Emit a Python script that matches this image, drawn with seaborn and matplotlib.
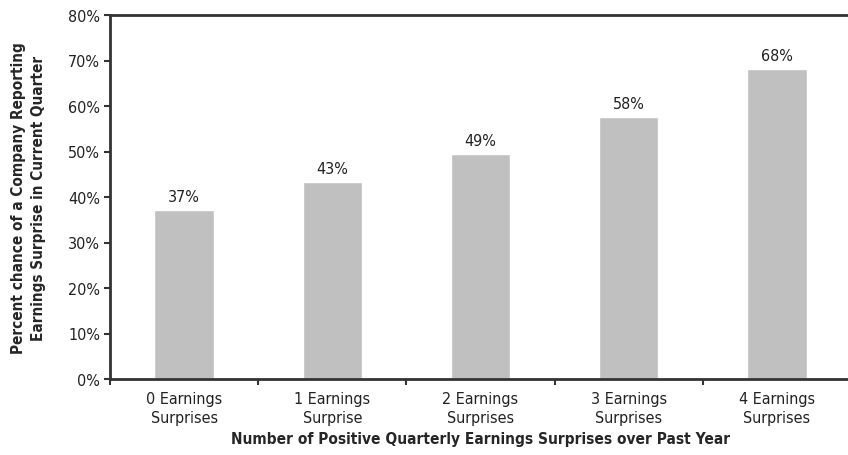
import numpy as np
import pandas as pd
import matplotlib
matplotlib.use("Agg")
import matplotlib.pyplot as plt
import seaborn as sns
from matplotlib.ticker import FuncFormatter

categories = ["0 Earnings\nSurprises", "1 Earnings\nSurprise", "2 Earnings\nSurprises",
              "3 Earnings\nSurprises", "4 Earnings\nSurprises"]
values = [37.2, 43.4, 49.5, 57.5, 68.1]
bar_labels = ["37%", "43%", "49%", "58%", "68%"]

sns.set_style("white")
# condensed sans face, close to the narrow Helvetica of the original
plt.rcParams["font.family"] = ["DejaVu Sans"]
plt.rcParams["font.stretch"] = "condensed"

df = pd.DataFrame({"group": categories, "pct": values})

fig = plt.figure(figsize=(8.48, 4.56), dpi=100)
ax = fig.add_axes([110 / 848, 76 / 456, 741 / 848, 364 / 456])

sns.barplot(data=df, x="group", y="pct", order=categories, color="#c0c0c0",
            saturation=1, width=0.4, ax=ax)

for i, (v, lab) in enumerate(zip(values, bar_labels)):
    ax.text(i, v + 1.3, lab, ha="center", va="bottom", fontsize=11.5, color="#222222")

ax.set_ylim(0, 80)
ax.set_xlim(-0.5, 4.5)
ax.set_yticks(np.arange(0, 81, 10))
ax.yaxis.set_major_formatter(FuncFormatter(lambda y, _: f"{y:.0f}%"))

# labels in the middle of each slot, tick marks on the slot boundaries
ax.set_xticks(range(len(categories)))
ax.set_xticklabels(categories, fontsize=11.5, color="#222222", linespacing=1.3)
ax.set_xticks(np.arange(-0.5, 5, 1), minor=True)
ax.tick_params(axis="x", which="major", bottom=True, length=0, pad=9)
ax.tick_params(axis="x", which="minor", bottom=True, length=4, width=1.5, color="#333333",
               direction="out")
ax.tick_params(axis="y", left=True, length=4, width=1.5, color="#333333", direction="out",
               labelsize=11.5, labelcolor="#222222", pad=3)

for side in ["left", "bottom", "top"]:
    ax.spines[side].set_visible(True)
    ax.spines[side].set_color("#333333")
    ax.spines[side].set_linewidth(2)
ax.spines["right"].set_visible(False)

ax.set_xlabel("Number of Positive Quarterly Earnings Surprises over Past Year",
              fontsize=11.1, fontweight="bold", labelpad=4)
ax.set_ylabel("Percent chance of a Company Reporting\nEarnings Surprise in Current Quarter",
              fontsize=11, fontweight="bold", labelpad=16, linespacing=1.4)

fig.savefig("out.png", dpi=100)
